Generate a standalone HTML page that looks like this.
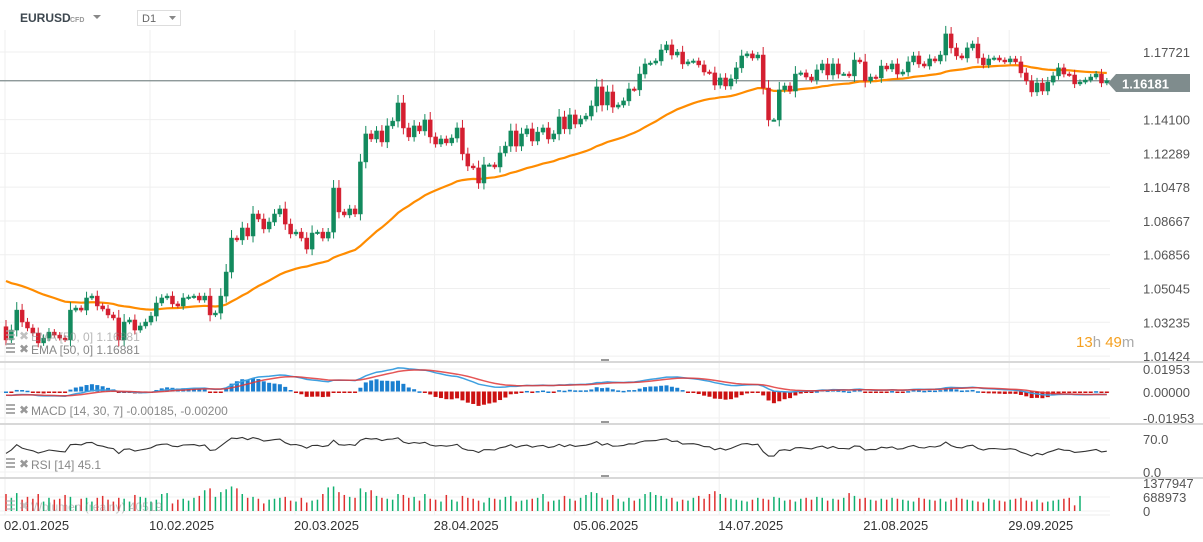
<!DOCTYPE html>
<html><head><meta charset="utf-8"><style>
body{margin:0;background:#fff;font-family:"Liberation Sans",sans-serif;}
#wrap{position:relative;width:1203px;height:542px;overflow:hidden;}
svg text{font-family:"Liberation Sans",sans-serif;}
</style></head><body>
<div id="wrap">
<svg id="c" width="1203" height="542"></svg>
</div>
<script>
const dateLabels=["02.01.2025","10.02.2025","20.03.2025","28.04.2025","05.06.2025","14.07.2025","21.08.2025","29.09.2025"];
const dateIdx=[0,27,54,80,106,133,160,187];
const priceTicks=[1.17721,1.14100,1.12289,1.10478,1.08667,1.06856,1.05045,1.03235,1.01424];
const lastPrice=1.16181;
const firstOpen=1.0300;
const closes=[1.0229,1.0282,1.0389,1.0325,1.0293,1.0266,1.0213,1.0239,1.0271,1.0255,1.0239,1.0229,1.0389,1.0400,1.0389,1.0454,1.0464,1.0411,1.0395,1.0363,1.0347,1.0229,1.0325,1.0336,1.0282,1.0304,1.0325,1.0357,1.0427,1.0454,1.0464,1.0422,1.0411,1.0454,1.0459,1.0464,1.0443,1.0464,1.0363,1.0373,1.0464,1.0593,1.0775,1.0765,1.0829,1.0786,1.0904,1.0877,1.0824,1.0861,1.0904,1.0931,1.0850,1.0797,1.0807,1.0775,1.0716,1.0802,1.0807,1.0775,1.0807,1.1043,1.0915,1.0899,1.0931,1.0904,1.1183,1.1333,1.1306,1.1349,1.1290,1.1376,1.1402,1.1499,1.1365,1.1317,1.1376,1.1349,1.1408,1.1317,1.1279,1.1306,1.1285,1.1311,1.1365,1.1226,1.1161,1.1151,1.1070,1.1167,1.1167,1.1156,1.1231,1.1268,1.1349,1.1268,1.1333,1.1360,1.1295,1.1343,1.1365,1.1306,1.1333,1.1424,1.1360,1.1435,1.1386,1.1413,1.1429,1.1483,1.1585,1.1488,1.1558,1.1477,1.1488,1.1510,1.1574,1.1569,1.1654,1.1708,1.1713,1.1724,1.1783,1.1810,1.1756,1.1772,1.1708,1.1719,1.1724,1.1703,1.1665,1.1660,1.1595,1.1633,1.1590,1.1628,1.1687,1.1751,1.1762,1.1740,1.1756,1.1579,1.1408,1.1408,1.1569,1.1590,1.1563,1.1654,1.1660,1.1638,1.1622,1.1676,1.1708,1.1649,1.1708,1.1654,1.1654,1.1644,1.1729,1.1719,1.1617,1.1638,1.1633,1.1697,1.1681,1.1708,1.1654,1.1665,1.1719,1.1751,1.1708,1.1697,1.1735,1.1724,1.1756,1.1869,1.1794,1.1751,1.1740,1.1794,1.1815,1.1740,1.1703,1.1735,1.1740,1.1729,1.1719,1.1735,1.1719,1.1660,1.1617,1.1558,1.1606,1.1563,1.1611,1.1644,1.1687,1.1654,1.1649,1.1601,1.1611,1.1622,1.1638,1.1654,1.1606,1.16181];
const volumes=[900,700,950,600,750,650,900,500,700,600,650,850,750,300,650,700,500,700,800,600,500,700,650,500,850,750,700,500,600,900,950,400,600,650,550,700,800,1100,1200,750,1000,1150,1300,1200,900,700,750,650,400,600,650,700,750,550,500,700,450,550,600,900,1250,1300,1000,850,750,700,1200,1000,1100,800,700,650,600,900,850,700,750,550,900,650,600,500,850,600,500,800,700,650,550,450,700,650,600,750,800,500,550,600,650,700,900,500,550,600,800,650,550,700,850,1000,950,700,600,850,650,500,700,550,650,900,1000,850,800,650,700,500,600,550,700,800,650,900,1050,900,700,650,600,550,500,600,700,650,600,750,700,550,600,500,650,700,600,750,700,550,650,600,700,950,800,650,700,600,550,650,600,700,650,600,550,500,700,650,600,550,650,500,600,700,650,600,550,500,450,650,600,550,500,600,650,700,550,500,600,450,500,550,600,650,700,300,800];

const NS="http://www.w3.org/2000/svg";
const svg=document.getElementById('c');
function mk(tag,attrs,parent){const e=document.createElementNS(NS,tag);for(const k in attrs)e.setAttribute(k,attrs[k]);(parent||svg).appendChild(e);return e;}
const N=closes.length;
const x0=6,dx=5.37;
const X=i=>x0+i*dx;
const Y=p=>52+(1.17721-p)*1866;
const opens=closes.map((c,i)=>i===0?firstOpen:closes[i-1]);

const grid=mk('g',{});

dateIdx.forEach(i=>{const gx=X(i)-1;mk('line',{x1:gx,x2:gx,y1:30,y2:515,stroke:'#efefef','stroke-width':1},grid);});
[...priceTicks].forEach(p=>mk('line',{x1:0,x2:1110,y1:Y(p),y2:Y(p),stroke:'#efefef'},grid));
[369,392,418,440,472,497,511].forEach(y=>mk('line',{x1:0,x2:1110,y1:y,y2:y,stroke:'#f2f2f2'},grid));
[362,424,478].forEach(y=>{const l=mk('line',{x1:0,x2:1203,y1:y,y2:y,stroke:'#d8d8d8','stroke-width':2});
 mk('rect',{x:601,y:y-3,width:8,height:2,fill:'#999'});});
mk('line',{x1:0,x2:1110,y1:515,y2:515,stroke:'#eee'});

const cpl=mk('line',{x1:0,x2:1110,y1:Y(lastPrice),y2:Y(lastPrice),stroke:'#7f8c8d','stroke-width':1.2});


let ema=[];let e=1.0560;const k=2/44;
closes.forEach(c=>{e=c*k+e*(1-k);ema.push(e);});
const emaPath=mk('path',{d:ema.map((v,i)=>(i?'L':'M')+X(i).toFixed(1)+' '+Y(v).toFixed(1)).join(''),fill:'none',stroke:'#ff8c00','stroke-width':2.2});


const cg=mk('g',{});
for(let i=0;i<N;i++){
 const o=opens[i],c=closes[i];const up=c>=o;const col=up?'#138a5e':'#d41f30';
 const yo=Y(o),yc=Y(c);const top=Math.min(yo,yc),bot=Math.max(yo,yc);
 const g=mk('g',{},cg);
 
 
 const wick=Math.min(8,2+Math.abs(yo-yc)*0.35);
 mk('line',{x1:X(i),x2:X(i),y1:top-wick,y2:bot+wick*0.8,stroke:col,'stroke-width':1},g);
 mk('rect',{x:X(i)-2,y:top,width:4,height:Math.max(1.5,bot-top),fill:col,stroke:col,'stroke-width':0.5},g);
}

function emaArr(a,n,seed){const kk=2/(n+1);let v=seed;return a.map(x=>v=x*kk+v*(1-kk));}
const e14=emaArr(closes,14,1.034),e30=emaArr(closes,30,1.036);
const macd=e14.map((v,i)=>v-e30[i]);
const sig=emaArr(macd,7,macd[0]);
const YM=v=>392-v/0.01953*24;
const mg=mk('g',{});
macd.forEach((m,i)=>{const h=(m-sig[i])*3;const y=YM(h);const col=h>=0?'#1a7fd0':'#cc1111';
 const r=mk('rect',{x:X(i)-2,y:Math.min(y,392)-0.5,width:4,height:Math.max(1.5,Math.abs(y-392)),fill:col},mg);
 });
const ml=mk('path',{d:macd.map((v,i)=>(i?'L':'M')+X(i).toFixed(1)+' '+YM(v).toFixed(1)).join(''),fill:'none',stroke:'#3fa0e0','stroke-width':1.5},mg);

const sl=mk('path',{d:sig.map((v,i)=>(i?'L':'M')+X(i).toFixed(1)+' '+YM(v).toFixed(1)).join(''),fill:'none',stroke:'#e03838','stroke-width':1.5,opacity:0.85},mg);


let rsi=[];let ag=0.0012,al=0.0012;
closes.forEach((c,i)=>{const d=c-opens[i];const g=Math.max(d,0),l=Math.max(-d,0);ag=(ag*13+g)/14;al=(al*13+l)/14;rsi.push(100-100/(1+ag/(al||1e-9)));});
const YR=v=>472-v*0.457;
const rl=mk('path',{d:rsi.map((v,i)=>(i?'L':'M')+X(i).toFixed(1)+' '+YR(v).toFixed(1)).join(''),fill:'none',stroke:'#333','stroke-width':1.1});


const vg=mk('g',{});
volumes.forEach((v,i)=>{const h=v*1000/1377947*26;const col=closes[i]>=opens[i]?'#10b070':'#e03030';
 const b=mk('rect',{x:X(i)-0.75,y:511-h,width:1.5,height:h,fill:col},vg);
 });

function txt(s,x,y,attrs,name,inter){const t=mk('text',Object.assign({x:x,y:y},attrs));t.textContent=s;return t;}
const AX={fill:'#555','font-size':13};
priceTicks.forEach(p=>txt(p.toFixed(5),1143,Y(p)+5,AX,'price-tick-label'));
mk('path',{d:'M1108 83 L1116 74 L1190 74 L1190 92 L1116 92 Z',fill:'#7f8c8d'});
txt('1.16181',1122,88.5,{fill:'#fff','font-size':13,'font-weight':'bold'},'current-price-label');
txt('0.01953',1143,374,AX,'macd-tick-label');
txt('0.00000',1143,397,AX,'macd-tick-label');
txt('-0.01953',1143,423,AX,'macd-tick-label');
txt('70.0',1143,444,AX,'rsi-tick-label');
txt('0.0',1143,477,AX,'rsi-tick-label');
txt('1377947',1143,488,AX,'volume-tick-label');
txt('688973',1143,502,AX,'volume-tick-label');
txt('0',1143,516,AX,'volume-tick-label');

dateIdx.forEach((i,j)=>txt(dateLabels[j],X(i)-2,530,{fill:'#333','font-size':13},'x-axis-date-label'));

const cd=mk('text',{x:1076,y:347,'font-size':15});
cd.innerHTML='<tspan fill="#f5a020">13</tspan><tspan fill="#aaa">h </tspan><tspan fill="#f5a020">49</tspan><tspan fill="#aaa">m</tspan>';

function legend(s,y,name,op){const g=mk('g',{opacity:op||1});
 mk('rect',{x:6,y:y-9,width:9,height:2,fill:'#aaa'},g);mk('rect',{x:6,y:y-5,width:9,height:2,fill:'#aaa'},g);mk('rect',{x:6,y:y-1,width:9,height:2,fill:'#aaa'},g);
 const t=mk('text',{x:19,y:y+1,fill:'#999','font-size':12},g);t.textContent='✖';
 const u=mk('text',{x:31,y:y+2,fill:'#888','font-size':12},g);u.textContent=s;}
legend('EMA [50, 0] 1.16881',339,'ema-legend-ghost',0.6);
legend('EMA [50, 0] 1.16881',352,'ema-legend');
legend('MACD [14, 30, 7] -0.00185, -0.00200',413,'macd-legend');
legend('RSI [14] 45.1',467,'rsi-legend');
legend('Wolumen (realny) 40519',509,'volume-legend',0.5);

txt('EURUSD',20,22,{fill:'#3d474f','font-size':12,'font-weight':'bold'},'symbol-name',true);
txt('CFD',70,22,{fill:'#999','font-size':7,'font-weight':'bold'},'symbol-type');
mk('path',{d:'M93 15 L101 15 L97 19 Z',fill:'#888'});
const tf=mk('rect',{x:137.5,y:10.5,width:43,height:15,fill:'#fff',stroke:'#ddd'});
txt('D1',142,22,{fill:'#666','font-size':11},'timeframe-label');
mk('path',{d:'M169 16 L176 16 L172.5 20 Z',fill:'#888'});
</script>
</body></html>
